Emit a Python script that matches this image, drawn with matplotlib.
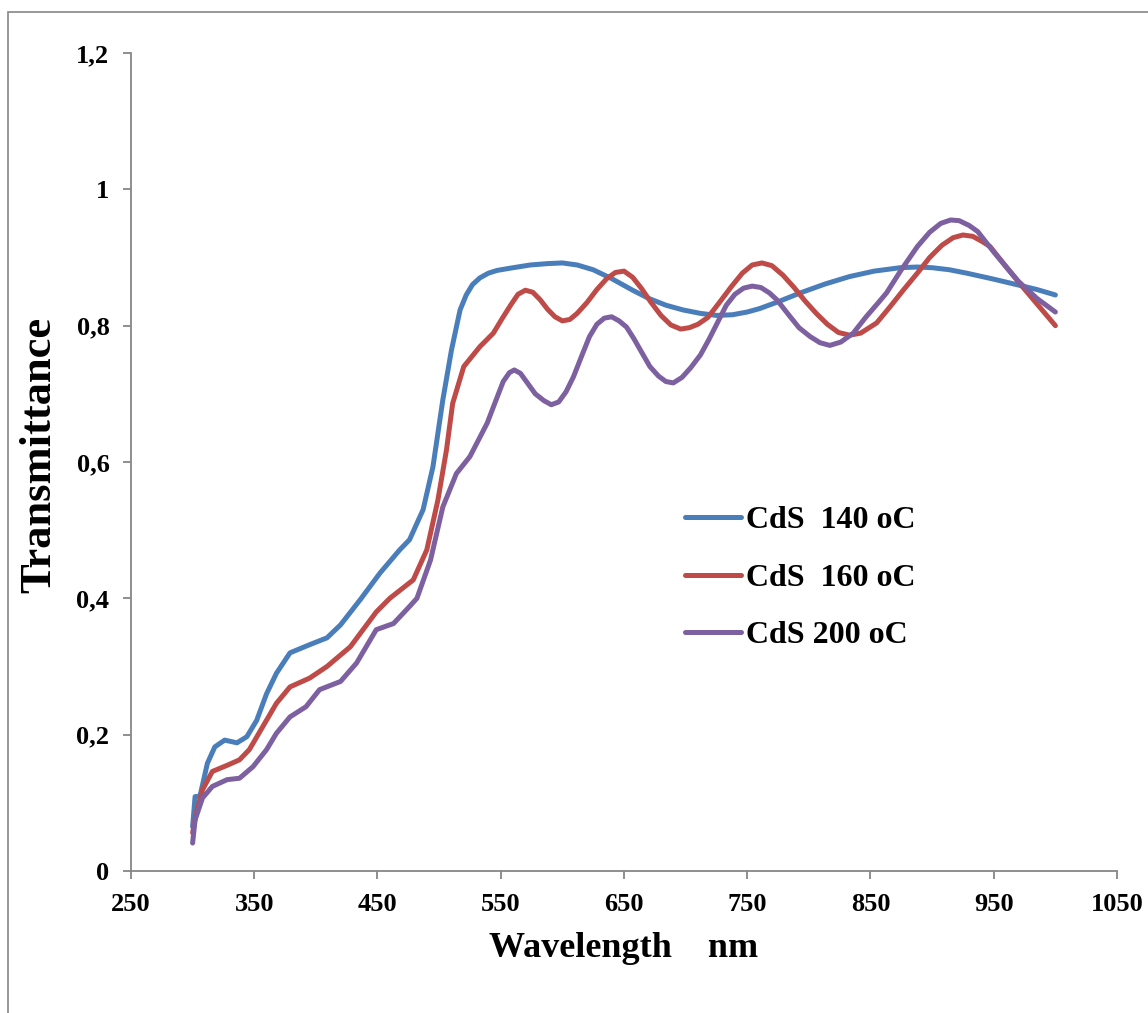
"""Transmittance spectra of CdS films annealed at different temperatures."""

import matplotlib

matplotlib.use("Agg")
import matplotlib.pyplot as plt  # noqa: E402
from matplotlib.patches import Rectangle  # noqa: E402

# --- data ------------------------------------------------------------------
wl_140 = [300, 302, 306, 312, 318, 326, 336, 344, 352, 360, 368, 379, 395,
          409, 420, 436, 452, 468, 476, 487, 495, 503, 510, 517, 522, 527,
          533, 540, 547, 560, 574, 588, 600, 612, 625, 640, 657, 670, 684,
          698, 712, 725, 738, 750, 760, 775, 793, 813, 833, 853, 874, 888,
          900, 914, 928, 948, 969, 985, 1000]
t_140 = [0.065, 0.109, 0.110, 0.158, 0.182, 0.192, 0.188, 0.197, 0.221,
         0.260, 0.290, 0.320, 0.332, 0.342, 0.361, 0.398, 0.437, 0.471,
         0.486, 0.530, 0.593, 0.691, 0.764, 0.823, 0.845, 0.860, 0.870,
         0.877, 0.881, 0.885, 0.889, 0.891, 0.892, 0.889, 0.882, 0.869,
         0.852, 0.840, 0.830, 0.823, 0.818, 0.815, 0.816, 0.820, 0.825,
         0.835, 0.848, 0.861, 0.872, 0.880, 0.885, 0.886, 0.885, 0.882,
         0.877, 0.869, 0.860, 0.853, 0.845]

wl_160 = [300, 303, 308, 316, 328, 338, 346, 357, 368, 379, 395, 409, 428,
          449, 460, 479, 490, 499, 506, 511, 520, 533, 544, 551, 558, 564,
          570, 576, 582, 588, 594, 600, 606, 612, 620, 628, 636, 643, 650,
          657, 664, 672, 680, 688, 696, 703, 710, 718, 727, 737, 746, 754,
          762, 770, 779, 788, 797, 806, 815, 824, 833, 842, 855, 866, 877,
          888, 898, 908, 917, 925, 933, 941, 947, 958, 971, 985, 1000]
t_160 = [0.056, 0.085, 0.119, 0.146, 0.155, 0.163, 0.178, 0.212, 0.246,
         0.270, 0.283, 0.300, 0.329, 0.380, 0.400, 0.427, 0.471, 0.544,
         0.618, 0.686, 0.740, 0.769, 0.789, 0.810, 0.830, 0.846, 0.852,
         0.849, 0.838, 0.824, 0.813, 0.807, 0.809, 0.818, 0.834, 0.853,
         0.869, 0.878, 0.880, 0.871, 0.855, 0.834, 0.815, 0.801, 0.795,
         0.797, 0.802, 0.812, 0.833, 0.857, 0.877, 0.889, 0.892, 0.888,
         0.874, 0.856, 0.836, 0.818, 0.802, 0.790, 0.786, 0.789, 0.804,
         0.828, 0.853, 0.877, 0.900, 0.918, 0.929, 0.933, 0.931, 0.923,
         0.916, 0.891, 0.862, 0.832, 0.800]

wl_200 = [300, 302, 308, 316, 328, 338, 349, 360, 368, 379, 392, 403, 420,
          433, 449, 463, 476, 482, 493, 503, 514, 525, 539, 546, 552, 557,
          561, 566, 572, 578, 585, 591, 597, 603, 609, 616, 622, 628, 634,
          640, 646, 652, 658, 664, 671, 678, 684, 690, 697, 704, 712, 719,
          726, 733, 740, 747, 754, 761, 768, 774, 784, 792, 801, 809, 817,
          826, 836, 846, 856, 863, 875, 888, 898, 907, 915, 922, 930, 937,
          950, 962, 970, 985, 1000]
t_200 = [0.041, 0.075, 0.107, 0.124, 0.134, 0.136, 0.153, 0.178, 0.202,
         0.226, 0.241, 0.266, 0.278, 0.305, 0.354, 0.363, 0.388, 0.400,
         0.456, 0.534, 0.583, 0.608, 0.657, 0.690, 0.718, 0.731, 0.735,
         0.730, 0.715, 0.700, 0.690, 0.684, 0.688, 0.703, 0.725, 0.757,
         0.784, 0.802, 0.811, 0.813, 0.807, 0.798, 0.781, 0.762, 0.740,
         0.726, 0.718, 0.716, 0.724, 0.738, 0.757, 0.780, 0.805, 0.830,
         0.846, 0.855, 0.858, 0.856, 0.848, 0.838, 0.815, 0.797, 0.784,
         0.775, 0.771, 0.776, 0.789, 0.812, 0.833, 0.848, 0.882, 0.916,
         0.937, 0.950, 0.955, 0.954, 0.947, 0.938, 0.908, 0.882, 0.865,
         0.840, 0.820]

labels = ["CdS  140 oC", "CdS  160 oC", "CdS 200 oC"]
colors = ["#4A7EBB", "#BE4B48", "#7D60A0"]

x_ticks = [250, 350, 450, 550, 650, 750, 850, 950, 1050]
y_ticks = [0, 0.2, 0.4, 0.6, 0.8, 1.0, 1.2]
y_tick_labels = ["0", "0,2", "0,4", "0,6", "0,8", "1", "1,2"]

# --- figure -----------------------------------------------------------------
plt.rcParams["font.family"] = ["Liberation Serif", "DejaVu Serif"]
plt.rcParams["font.weight"] = "bold"

fig = plt.figure(figsize=(11.48, 10.13), dpi=100)
ax = fig.add_axes([0.1141, 0.1402, 0.8589, 0.8075])

for wl, t, lab, c in zip([wl_140, wl_160, wl_200], [t_140, t_160, t_200],
                         labels, colors):
    ax.plot(wl, t, color=c, lw=3.6, label=lab, solid_capstyle="round",
            solid_joinstyle="round")

ax.set_xlim(250, 1050)
ax.set_ylim(0, 1.2)
ax.set_xticks(x_ticks)
ax.set_yticks(y_ticks)
ax.set_yticklabels(y_tick_labels)

gray = "#868686"
for side in ("top", "right"):
    ax.spines[side].set_visible(False)
for side in ("left", "bottom"):
    ax.spines[side].set_color(gray)
    ax.spines[side].set_linewidth(1.3)
ax.tick_params(direction="out", length=5.5, width=1.3, color=gray,
               labelsize=19, pad=10)
for lbl in ax.get_xticklabels() + ax.get_yticklabels():
    lbl.set_fontweight("bold")

ax.set_xlabel("Wavelength    nm", fontsize=26, fontweight="bold", labelpad=12)
ax.set_ylabel("Transmittance", fontsize=32, fontweight="bold")
ax.yaxis.set_label_coords(-0.073, 0.509)

ax.legend(loc="center left", bbox_to_anchor=(0.5967, 0.4294),
          bbox_transform=fig.transFigure, frameon=False,
          handlelength=1.75, handletextpad=0.15, labelspacing=0.88,
          borderpad=0, borderaxespad=0, prop={"weight": "bold", "size": 23})

# outer chart-area border
fig.patches.append(Rectangle((8 / 1148, -0.05), 1.2, 0.988 + 0.05,
                             transform=fig.transFigure, fill=False,
                             edgecolor=gray, lw=1.2))

fig.savefig("out.png", dpi=100)
plt.close(fig)
